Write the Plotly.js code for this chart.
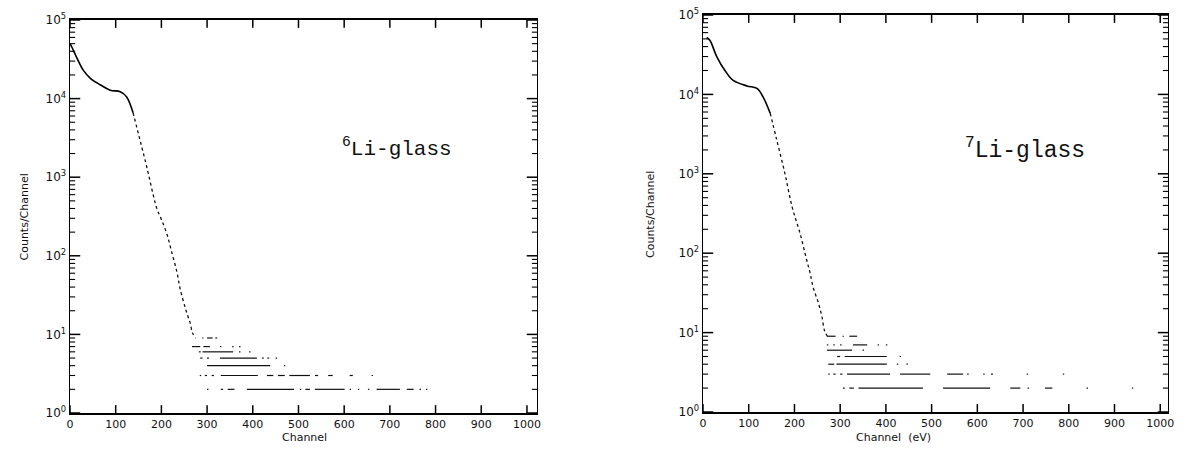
<!DOCTYPE html>
<html>
<head>
<meta charset="utf-8">
<script src="https://cdn.plot.ly/plotly-3.0.1.min.js"></script>
<style>html,body{margin:0;padding:0;background:#fff;}#chart{width:1186px;height:465px;}</style>
</head>
<body>
<div id="chart"></div>
<script>
// ---------- 6Li-glass (left panel) ----------
const L_curveCh     = [0, 5, 15, 29, 45, 66, 88, 110, 124, 138];
const L_curveCounts = [50000, 44000, 33000, 23000, 18000, 15000, 12800, 12200, 10500, 6600];
const L_steepCh     = [138, 153, 168, 182, 190, 200, 212, 222, 234, 241, 252, 258, 263, 268, 275];
const L_steepCounts = [6600, 3000, 1350, 600, 400, 290, 190, 115, 62, 38, 22, 17, 14, 10.5, 9];

// tail: count levels and channel segments
const L_tailLevels = [9, 7, 6, 5, 4, 3, 2];
const L_tail9 = [[289,292],[300,312],[318,322]];
const L_tail7 = [[267,285],[292,306],[328,331],[355,358],[370,373]];
const L_tail6 = [[282,286],[290,357],[370,373],[392,395]];
const L_tail5 = [[285,290],[300,304],[328,409],[420,424],[432,436],[450,453]];
const L_tail4 = [[300,438],[468,471]];
const L_tail3 = [[284,287],[295,300],[310,315],[330,411],[431,445],[455,470],[480,525],[536,543],[565,575],[612,619],[660,663]];
const L_tail2 = [[300,303],[330,335],[345,360],[387,490],[503,506],[515,525],[536,601],[612,615],[630,633],[652,655],[671,722],[737,752],[765,768],[779,782]];

// ---------- 7Li-glass (right panel) ----------
const R_curveCh     = [8, 15, 30, 48, 66, 96, 118, 131, 147];
const R_curveCounts = [52000, 48000, 30000, 20000, 15000, 12800, 11900, 9400, 5800];
const R_steepCh     = [147, 161, 179, 195, 212, 227, 234, 241, 252, 260, 266, 272];
const R_steepCounts = [5800, 2700, 1020, 380, 180, 81, 57, 37, 24, 16, 10.5, 9];

const R_tailLevels = [9, 7, 6, 5, 4, 3, 2];
const R_tail9 = [[271,290],[305,308],[320,337]];
const R_tail7 = [[271,274],[285,288],[300,303],[328,359],[382,385],[400,403]];
const R_tail6 = [[271,326],[349,352]];
const R_tail5 = [[293,300],[310,402],[430,433]];
const R_tail4 = [[274,287],[292,402],[424,427],[445,448]];
const R_tail3 = [[274,277],[285,290],[300,305],[315,409],[431,497],[534,569],[578,581],[613,616],[630,634],[708,711],[787,790]];
const R_tail2 = [[306,310],[320,330],[340,481],[525,628],[672,694],[710,713],[748,764],[839,842],[938,941]];

// axis ticks
const xTickVals = [0,100,200,300,400,500,600,700,800,900,1000];
const yTickVals = [1,10,100,1000,10000,100000];
const yTickText = ['10<sup>0</sup>','10<sup>1</sup>','10<sup>2</sup>','10<sup>3</sup>','10<sup>4</sup>','10<sup>5</sup>'];
const yMinorMult = [2,3,4,5,6,7,8,9];

const yMinorVals = [];
for (let d = 0; d < 5; d++) yMinorMult.forEach(m => yMinorVals.push(m * Math.pow(10, d)));

function tailTrace(levels, segLists, xa, ya) {
  const x = [], y = [];
  levels.forEach((lv, i) => {
    segLists[i].forEach(s => { x.push(s[0], s[1], null); y.push(lv, lv, null); });
  });
  return {x, y, xaxis: xa, yaxis: ya, mode: 'lines', type: 'scatter',
          line: {color: '#111', width: 1.2}, connectgaps: false, hoverinfo: 'skip', showlegend: false};
}

// tick marks drawn through the axes' own scales (lengths given as fractions of a decade / of the x range)
function tickTraces(xa, ya, xMax) {
  const majX = [], majY = [], minX = [], minY = [];
  const f = Math.pow(10, 0.1);           // x-tick length: 0.1 decade
  xTickVals.forEach(v => {
    majX.push(v, v, null, v, v, null); majY.push(1, f, null, 1e5, 1e5 / f, null);
  });
  const lM = xMax * 0.022, lm = xMax * 0.011;
  yTickVals.forEach(v => {
    majX.push(0, lM, null, xMax, xMax - lM, null); majY.push(v, v, null, v, v, null);
  });
  yMinorVals.forEach(v => {
    minX.push(0, lm, null, xMax, xMax - lm, null); minY.push(v, v, null, v, v, null);
  });
  return [
    {x: majX, y: majY, xaxis: xa, yaxis: ya, mode: 'lines', type: 'scatter', line: {color: '#000', width: 1.5},
     connectgaps: false, hoverinfo: 'skip', showlegend: false, cliponaxis: false},
    {x: minX, y: minY, xaxis: xa, yaxis: ya, mode: 'lines', type: 'scatter', line: {color: '#000', width: 1.1},
     connectgaps: false, hoverinfo: 'skip', showlegend: false, cliponaxis: false}
  ];
}

const L_xMax = 1022, R_xMax = 1017;

const data = [
  {x: L_curveCh, y: L_curveCounts, mode: 'lines', type: 'scatter', line: {color: '#000', width: 1.6, shape: 'spline'}, showlegend: false},
  {x: L_steepCh, y: L_steepCounts, mode: 'lines', type: 'scatter', line: {color: '#111', width: 1.3, dash: 'dot', shape: 'spline'}, showlegend: false},
  tailTrace(L_tailLevels, [L_tail9, L_tail7, L_tail6, L_tail5, L_tail4, L_tail3, L_tail2], 'x', 'y'),
  {x: R_curveCh, y: R_curveCounts, xaxis: 'x2', yaxis: 'y2', mode: 'lines', type: 'scatter', line: {color: '#000', width: 1.6, shape: 'spline'}, showlegend: false},
  {x: R_steepCh, y: R_steepCounts, xaxis: 'x2', yaxis: 'y2', mode: 'lines', type: 'scatter', line: {color: '#111', width: 1.3, dash: 'dot', shape: 'spline'}, showlegend: false},
  tailTrace(R_tailLevels, [R_tail9, R_tail7, R_tail6, R_tail5, R_tail4, R_tail3, R_tail2], 'x2', 'y2'),
  ...tickTraces('x', 'y', L_xMax),
  ...tickTraces('x2', 'y2', R_xMax)
];

// plot area: margins of 10 px → 1166 x 445
const W = 1166, H = 445, M = 10;
const px = v => (v - M) / W;
const py = v => (H + M - v) / H;

const tickFont = {family: 'DejaVu Sans', size: 11, color: '#111'};
function xAxis(domain, range, anchor) {
  const a = {domain, range, tickmode: 'array', tickvals: xTickVals, ticks: '', showline: true,
          linecolor: 'black', linewidth: 1.6, mirror: true, showgrid: false, zeroline: false, tickfont: tickFont};
  if (anchor) a.anchor = anchor;
  return a;
}
function yAxis(domain, anchor) {
  const a = {domain, type: 'log', range: [0, 5], tickmode: 'array', tickvals: yTickVals, ticktext: yTickText,
          ticks: '', showline: true, linecolor: 'black', linewidth: 1.4, mirror: true, showgrid: false,
          zeroline: false, tickfont: {family: 'DejaVu Sans', size: 12, color: '#111'}};
  if (anchor) a.anchor = anchor;
  return a;
}

const axTitleFont = {family: 'DejaVu Sans', size: 11, color: '#111'};
const layout = {
  width: 1186, height: 465,
  margin: {l: M, r: M, t: M, b: M},
  paper_bgcolor: '#fff', plot_bgcolor: '#fff',
  xaxis: xAxis([px(70), px(537)], [0, L_xMax]),
  yaxis: yAxis([py(413), py(20)]),
  xaxis2: xAxis([px(703), px(1168)], [0, R_xMax], 'y2'),
  yaxis2: yAxis([py(412), py(15)], 'x2'),
  annotations: [
    {text: 'Counts/Channel', xref: 'paper', yref: 'paper', x: px(15), y: py(217), textangle: -90,
     showarrow: false, font: axTitleFont},
    {text: 'Counts/Channel', xref: 'paper', yref: 'paper', x: px(650), y: py(215), textangle: -90,
     showarrow: false, font: axTitleFont},
    {text: 'Channel', xref: 'paper', yref: 'paper', x: px(280), y: py(446),
     showarrow: false, font: axTitleFont},
    {text: 'Channel\u00a0\u00a0(eV)', xref: 'paper', yref: 'paper', x: px(933), y: py(446),
     showarrow: false, font: axTitleFont},
    {text: '<sup>6</sup>Li-glass', xref: 'paper', yref: 'paper', x: px(340), y: py(132), xanchor: 'left',
     showarrow: false, font: {family: 'Liberation Mono', size: 21, color: '#111'}},
    {text: '<sup>7</sup>Li-glass', xref: 'paper', yref: 'paper', x: px(963), y: py(132), xanchor: 'left',
     showarrow: false, font: {family: 'Liberation Mono', size: 23, color: '#111'}}
  ]
};

Plotly.newPlot('chart', data, layout, {staticPlot: true, displayModeBar: false});
</script>
</body>
</html>
